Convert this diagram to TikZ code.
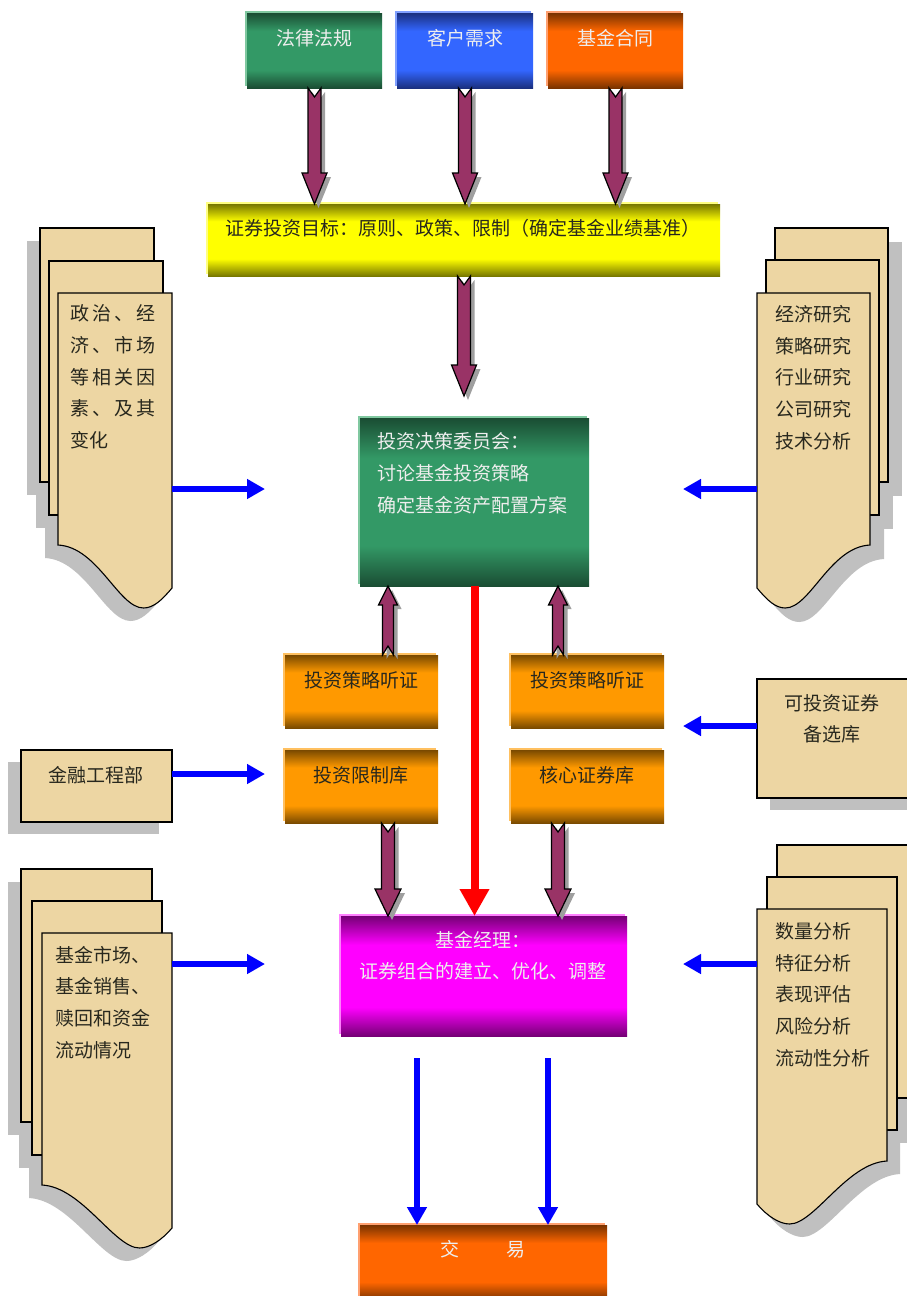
\documentclass[tikz,border=0pt]{standalone}
\usepackage{fontspec}
\setmainfont{Noto Sans CJK SC}
\usetikzlibrary{calc,arrows.meta,shadows}

\definecolor{gdk}{RGB}{26,77,51}
\definecolor{glt}{RGB}{51,153,102}
\definecolor{gedge}{RGB}{128,200,160}
\definecolor{bdk}{RGB}{26,48,128}
\definecolor{blt}{RGB}{51,102,255}
\definecolor{bedge}{RGB}{128,160,255}
\definecolor{odk}{RGB}{122,51,0}
\definecolor{olt}{RGB}{255,102,0}
\definecolor{oedge}{RGB}{255,160,112}
\definecolor{ydk}{RGB}{120,120,0}
\definecolor{ylt}{RGB}{255,255,0}
\definecolor{yedge}{RGB}{255,255,128}
\definecolor{adk}{RGB}{122,74,0}
\definecolor{alt}{RGB}{255,153,0}
\definecolor{aedge}{RGB}{255,192,96}
\definecolor{mdk}{RGB}{118,0,118}
\definecolor{mlt}{RGB}{255,0,255}
\definecolor{medge}{RGB}{255,128,255}
\definecolor{apurple}{RGB}{153,51,102}
\definecolor{paper}{RGB}{237,214,163}
\definecolor{shgray}{RGB}{192,192,192}
\definecolor{txtgray}{RGB}{238,238,238}
\definecolor{txtdark}{RGB}{40,40,30}

\pgfdeclareverticalshading{shG}{100bp}{color(0bp)=(gdk); color(25bp)=(gdk); color(37bp)=(glt); color(63bp)=(glt); color(75bp)=(gdk); color(100bp)=(gdk)}
\pgfdeclareverticalshading{shB}{100bp}{color(0bp)=(bdk); color(25bp)=(bdk); color(37bp)=(blt); color(63bp)=(blt); color(75bp)=(bdk); color(100bp)=(bdk)}
\pgfdeclareverticalshading{shO}{100bp}{color(0bp)=(odk); color(25bp)=(odk); color(37bp)=(olt); color(63bp)=(olt); color(75bp)=(odk); color(100bp)=(odk)}
\pgfdeclareverticalshading{shY}{100bp}{color(0bp)=(ydk); color(25bp)=(ydk); color(37bp)=(ylt); color(63bp)=(ylt); color(75bp)=(ydk); color(100bp)=(ydk)}
\pgfdeclareverticalshading{shA}{100bp}{color(0bp)=(adk); color(25bp)=(adk); color(37bp)=(alt); color(63bp)=(alt); color(75bp)=(adk); color(100bp)=(adk)}
\pgfdeclareverticalshading{shM}{100bp}{color(0bp)=(mdk); color(25bp)=(mdk); color(37bp)=(mlt); color(63bp)=(mlt); color(75bp)=(mdk); color(100bp)=(mdk)}

% vertical block arrow: from, to, half shaft, half head, head length
\newcommand\blockarrow[5]{%
 \foreach \dx/\dy/\st in {4pt/-4pt/arrshadow, 0pt/0pt/arrbody}{
  \path[\st] let \p1=(#1), \p2=(#2), \n1={(\y2-\y1)/abs(\y2-\y1)} in
   ({\x1-#3+\dx},{\y1+\dy}) -- ({\x1-#3+\dx},{\y2-\n1*#5+\dy})
   -- ({\x1-#4+\dx},{\y2-\n1*#5+\dy}) -- ({\x2+\dx},{\y2+\dy})
   -- ({\x1+#4+\dx},{\y2-\n1*#5+\dy}) -- ({\x1+#3+\dx},{\y2-\n1*#5+\dy})
   -- ({\x1+#3+\dx},{\y1+\dy}) -- ({\x1+\dx},{\y1+\n1*9pt+\dy}) -- cycle;
 }}

% scroll fronts
\newcommand\scrollL[4][]{%
  \draw[#1] (#2,#3) -- ++(#4,0) -- ++(0,295)
    .. controls +(-10,12) and +(10,0) .. ++({-0.25*#4},20)
    .. controls +(-25,0) and +(40,2) .. ({#2},{#3+252}) -- cycle;}
\newcommand\scrollR[4][]{%
  \draw[#1] (#2,#3) -- ++(#4,0) -- ++(0,252)
    .. controls +(-40,2) and +(25,0) .. ({#2+0.25*#4},{#3+315})
    .. controls +(-10,0) and +(10,12) .. ({#2},{#3+295}) -- cycle;}

\begin{document}
\begin{tikzpicture}[x=1pt,y=-1pt,
  box/.style={inner sep=0pt, outer sep=0pt, anchor=north west, shade},
  bG/.style={box, shading=shG, general shadow={fill=gedge, shadow xshift=-2pt, shadow yshift=2pt}},
  bB/.style={box, shading=shB, general shadow={fill=bedge, shadow xshift=-2pt, shadow yshift=2pt}},
  bO/.style={box, shading=shO, general shadow={fill=oedge, shadow xshift=-2pt, shadow yshift=2pt}},
  bY/.style={box, shading=shY, general shadow={fill=yedge, shadow xshift=-2pt, shadow yshift=2pt}},
  bA/.style={box, shading=shA, general shadow={fill=aedge, shadow xshift=-2pt, shadow yshift=2pt}},
  bM/.style={box, shading=shM, general shadow={fill=medge, shadow xshift=-2pt, shadow yshift=2pt}},
  wtxt/.style={font=\fontsize{19}{19}\selectfont, text=txtgray, inner sep=0pt},
  dtxt/.style={font=\fontsize{19}{19}\selectfont, text=txtdark, inner sep=0pt},
  ptxt/.style={font=\fontsize{19}{31.7}\selectfont, text=txtdark, inner sep=0pt, align=left, anchor=west},
  paperst/.style={fill=paper, draw=black, line width=1.1pt},
  shadowst/.style={fill=shgray, draw=none},
  paperbox/.style={paperst, inner sep=0pt, outer sep=0pt, anchor=north west},
  arrshadow/.style={fill=gray!75, draw=none},
  arrbody/.style={fill=apurple, draw=black, line width=1.2pt, line join=miter},
  bluearr/.style={draw=blue, line width=6pt, -{Triangle[length=18pt,width=19pt]}},
]
\useasboundingbox (0,0) rectangle (907,1296);
\clip (0,0) rectangle (907,1296);

% ---------- scroll shadows ----------
\fill[shadowst] (27,241) rectangle (141,495);
\fill[shadowst] (36,274) rectangle (150,528);
\scrollL[shadowst, shift={(-13,13)}]{58}{293}{114}
\fill[shadowst] (789,242) rectangle (902,496);
\fill[shadowst] (780,274) rectangle (893,529);
\scrollR[shadowst, shift={(14,14)}]{757}{293}{113}
\fill[shadowst] (8,882) rectangle (139,1135);
\fill[shadowst] (19,914) rectangle (149,1168);
\scrollL[shadowst, shift={(-13,13)}]{42}{933}{130}
\fill[shadowst] (790,858) rectangle (920,1111);
\fill[shadowst] (780,890) rectangle (910,1143);
\scrollR[shadowst, shift={(13,13)}]{757}{909}{130}

% ---------- scroll papers ----------
\draw[paperst] (40,228) rectangle (154,482);
\draw[paperst] (49,261) rectangle (163,515);
\scrollL[paperst]{58}{293}{114}
\draw[paperst] (775,228) rectangle (888,482);
\draw[paperst] (766,260) rectangle (879,515);
\scrollR[paperst]{757}{293}{113}
\draw[paperst] (21,869) rectangle (152,1122);
\draw[paperst] (32,901) rectangle (162,1155);
\scrollL[paperst]{42}{933}{130}
\draw[paperst] (777,845) rectangle (912,1098);
\draw[paperst] (767,877) rectangle (897,1130);
\scrollR[paperst]{757}{909}{130}

% scroll texts
\node[ptxt] (t1) at (70,377) {\makebox[85pt][s]{政\hfill 治\hfill 、\hfill 经}\\\makebox[85pt][s]{济\hfill 、\hfill 市\hfill 场}\\\makebox[85pt][s]{等\hfill 相\hfill 关\hfill 因}\\\makebox[85pt][s]{素\hfill 、\hfill 及\hfill 其}\\变化};
\node[ptxt] (t2) at (775,377.5) {经济研究\\策略研究\\行业研究\\公司研究\\技术分析};
\node[ptxt] (t3) at (55,1002.5) {基金市场、\\基金销售、\\赎回和资金\\流动情况};
\node[ptxt] (t4) at (775,994.5) {数量分析\\特征分析\\表现评估\\风险分析\\流动性分析};

% ---------- paper boxes ----------
\node[paperbox, minimum width=151pt, minimum height=72pt,
  general shadow={fill=shgray, shadow xshift=-13pt, shadow yshift=-12pt}] (fin) at (21,750) {};
\node[dtxt] (finT) at (96,775) {金融工程部};
\node[paperbox, minimum width=160pt, minimum height=119pt,
  general shadow={fill=shgray, shadow xshift=13pt, shadow yshift=-12pt}] (cand) at (757,679) {};
\node[dtxt, align=center, font=\fontsize{19}{31}\selectfont] (candT) at (832,718.5) {可投资证券\\备选库};

% ---------- coordinates ----------
\coordinate (uL) at (388,655);
\coordinate (uR) at (558,655);
\coordinate (dL) at (388,823);
\coordinate (dR) at (558,823);

% ---------- boxes ----------
\node[bG, minimum width=135pt, minimum height=75pt] (law) at (247,13) {};
\node[bB, minimum width=136pt, minimum height=75pt] (client) at (397,13) {};
\node[bO, minimum width=135pt, minimum height=75pt] (contract) at (548,13) {};
\node[bY, minimum width=512pt, minimum height=72pt] (goal) at (208,204) {};
\node[bG, minimum width=229pt, minimum height=168pt] (committee) at (360,418) {};
\node[bA, minimum width=153pt, minimum height=73pt] (hearL) at (285,655) {};
\node[bA, minimum width=153pt, minimum height=73pt] (hearR) at (511,655) {};
\node[bA, minimum width=153pt, minimum height=73pt] (limit) at (285,750) {};
\node[bA, minimum width=153pt, minimum height=73pt] (core) at (511,750) {};
\node[bM, minimum width=286pt, minimum height=120pt] (manager) at (341,916) {};
\node[bO, minimum width=247pt, minimum height=75pt] (trade) at (360,1225) {};

% ---------- purple block arrows ----------
\blockarrow{law.south}{law.south |- goal.north}{6.5pt}{12.5pt}{31pt}
\blockarrow{client.south}{client.south |- goal.north}{6.5pt}{12.5pt}{31pt}
\blockarrow{contract.south}{contract.south |- goal.north}{6.5pt}{12.5pt}{31pt}
\blockarrow{goal.south}{$(goal.south |- committee.north)+(0,-22)$}{6.5pt}{12.5pt}{31pt}
\blockarrow{uL}{uL |- committee.south}{5.5pt}{9.5pt}{19pt}
\blockarrow{uR}{uR |- committee.south}{5.5pt}{9.5pt}{19pt}
\blockarrow{dL}{dL |- manager.north}{6.5pt}{13pt}{27pt}
\blockarrow{dR}{dR |- manager.north}{6.5pt}{13pt}{27pt}

% red arrow
\draw[red, line width=8pt, -{Triangle[length=27pt,width=28pt]}] (committee.south) -- (committee.south |- manager.north);

% ---------- blue arrows ----------
\coordinate (s1) at (172,489); \coordinate (s1t) at (265,489);
\coordinate (s2) at (757,489); \coordinate (s2t) at (683,489);
\coordinate (s3) at (172,964); \coordinate (s3t) at (265,964);
\coordinate (s4) at (757,964); \coordinate (s4t) at (683,964);
\coordinate (finE) at ($(fin.north east)+(0,24)$); \coordinate (finT2) at (265,774);
\coordinate (candW) at ($(cand.north west)+(0,47)$); \coordinate (candT2) at (683,726);
\coordinate (b1) at (417,1058); \coordinate (b2) at (548,1058);
\draw[bluearr] (s1) -- (s1t);
\draw[bluearr] (s2) -- (s2t);
\draw[bluearr] (s3) -- (s3t);
\draw[bluearr] (s4) -- (s4t);
\draw[bluearr] (finE) -- (finT2);
\draw[bluearr] (candW) -- (candT2);
\draw[bluearr] (b1) -- (b1 |- trade.north);
\draw[bluearr] (b2) -- (b2 |- trade.north);

% ---------- box texts ----------
\node[wtxt] (lawT) at (314,38) {法律法规};
\node[wtxt] (clientT) at (465,38) {客户需求};
\node[wtxt] (contractT) at (615,38) {基金合同};
\node[dtxt] (goalT) at (463,228) {证券投资目标：原则、政策、限制（确定基金业绩基准）};
\node[ptxt, text=txtgray, font=\fontsize{19}{32}\selectfont] (commT) at (377,473) {投资决策委员会：\\讨论基金投资策略\\确定基金资产配置方案};
\node[dtxt] (hearLT) at (361,680) {投资策略听证};
\node[dtxt] (hearRT) at (587,680) {投资策略听证};
\node[dtxt] (limitT) at (361,775) {投资限制库};
\node[dtxt] (coreT) at (587,775) {核心证券库};
\node[wtxt, align=center, font=\fontsize{19}{31}\selectfont] (managerT) at (483,955.5) {基金经理：\\证券组合的建立、优化、调整};
\node[wtxt] (tradeT) at (483,1249) {交\hspace{48pt}易};
\end{tikzpicture}
\end{document}
